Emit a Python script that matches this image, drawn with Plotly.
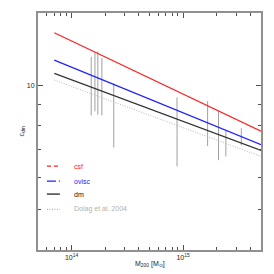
import plotly.graph_objects as go

# Model relations c(M)
mass_line = [7e13, 5e15]
c_csf = [13.44, 7.76]
c_ovisc = [11.53, 7.20]
c_dm = [10.71, 6.97]
c_dolag = [10.32, 6.74]

# Vertical ranges (cluster scatter)
cl_mass = [1.50e14, 1.62e14, 1.72e14, 1.87e14, 2.39e14, 8.83e14, 1.66e15, 2.08e15, 2.42e15, 3.33e15]
cl_low = [8.47, 8.67, 8.51, 8.47, 7.08, 6.38, 7.14, 6.60, 6.74, 7.17]
cl_high = [11.75, 12.03, 12.10, 11.66, 10.13, 9.37, 9.17, 8.67, 7.79, 7.89]

x_tickvals = [1e14, 1e15]
x_ticktext = ["10<sup>14</sup>", "10<sup>15</sup>"]
x_minor = [6e13, 7e13, 8e13, 9e13, 2e14, 3e14, 4e14, 5e14, 6e14, 7e14, 8e14, 9e14,
           2e15, 3e15, 4e15]
y_tickvals = [10]
y_ticktext = ["10"]
y_minor = [5, 6, 7, 8, 9]

legend_labels = ["csf", "ovisc", "dm", "Dolag et al. 2004"]
legend_colors = ["#ff2020", "#2020ff", "#111111", "#b0b0b0"]
legend_dash = ["4px,3px", "dashdot", "solid", "1px,1.5px"]

FONT = "Liberation Sans, Arial, sans-serif"

fig = go.Figure()

xs, ys = [], []
for m, lo, hi in zip(cl_mass, cl_low, cl_high):
    xs += [m, m, None]
    ys += [lo, hi, None]
fig.add_trace(go.Scatter(x=xs, y=ys, mode="lines", line=dict(color="#a0a0a0", width=1),
                         showlegend=False, hoverinfo="skip"))

fig.add_trace(go.Scatter(x=mass_line, y=c_dolag, mode="lines",
                         line=dict(color="#b8b8b8", width=1, dash="1px,1.5px"), showlegend=False))
fig.add_trace(go.Scatter(x=mass_line, y=c_dm, mode="lines",
                         line=dict(color="#333333", width=1.2), showlegend=False))
fig.add_trace(go.Scatter(x=mass_line, y=c_ovisc, mode="lines",
                         line=dict(color="#2020ff", width=1.2), showlegend=False))
fig.add_trace(go.Scatter(x=mass_line, y=c_csf, mode="lines",
                         line=dict(color="#ff2020", width=1.2), showlegend=False))

axis_common = dict(type="log", showgrid=False, zeroline=False, showline=True,
                   linecolor="#909090", linewidth=2, mirror="allticks",
                   ticks="inside", ticklen=5, tickwidth=1, tickcolor="#505050",
                   tickfont=dict(size=7, family=FONT, color="#222"))

fig.update_xaxes(**axis_common, range=[13.69897, 15.69897], tickvals=x_tickvals, ticktext=x_ticktext,
                 minor=dict(ticks="inside", ticklen=3, tickcolor="#505050", tickmode="array",
                            tickvals=x_minor))
fig.update_yaxes(**axis_common, range=[0.60206, 1.176091], tickvals=y_tickvals, ticktext=y_ticktext,
                 minor=dict(ticks="inside", ticklen=3, tickcolor="#505050", tickmode="array",
                            tickvals=y_minor))

annotations = [
    dict(text="M<sub>200</sub> [M<sub>\u2299</sub>]", xref="paper", yref="paper", x=0.5, y=-0.059,
         showarrow=False, font=dict(size=7, family=FONT, color="#222"),
         xanchor="center", yanchor="middle"),
    dict(text="c<sub>dm</sub>", xref="paper", yref="paper", x=-0.076, y=0.5, textangle=-90,
         showarrow=False, font=dict(size=7, family=FONT, color="#222"),
         xanchor="center", yanchor="middle"),
]
shapes = []
legend_y = [0.354, 0.291, 0.236, 0.171]
for lab, col, dsh, ly in zip(legend_labels, legend_colors, legend_dash, legend_y):
    shapes.append(dict(type="line", xref="paper", yref="paper", x0=0.04, x1=0.098, y0=ly, y1=ly,
                       line=dict(color=col, width=1.2, dash=dsh)))
    annotations.append(dict(text=lab, xref="paper", yref="paper", x=0.151, y=ly, showarrow=False,
                            xanchor="left", yanchor="middle",
                            font=dict(size=7, family=FONT, color=col)))

fig.update_layout(width=274, height=274, margin=dict(l=38, r=11, t=12, b=24),
                  paper_bgcolor="white", plot_bgcolor="white",
                  annotations=annotations, shapes=shapes, showlegend=False)

fig.write_html("out.html", config={"displayModeBar": False},
               post_script="document.body.style.margin='0';document.body.style.padding='0';")
